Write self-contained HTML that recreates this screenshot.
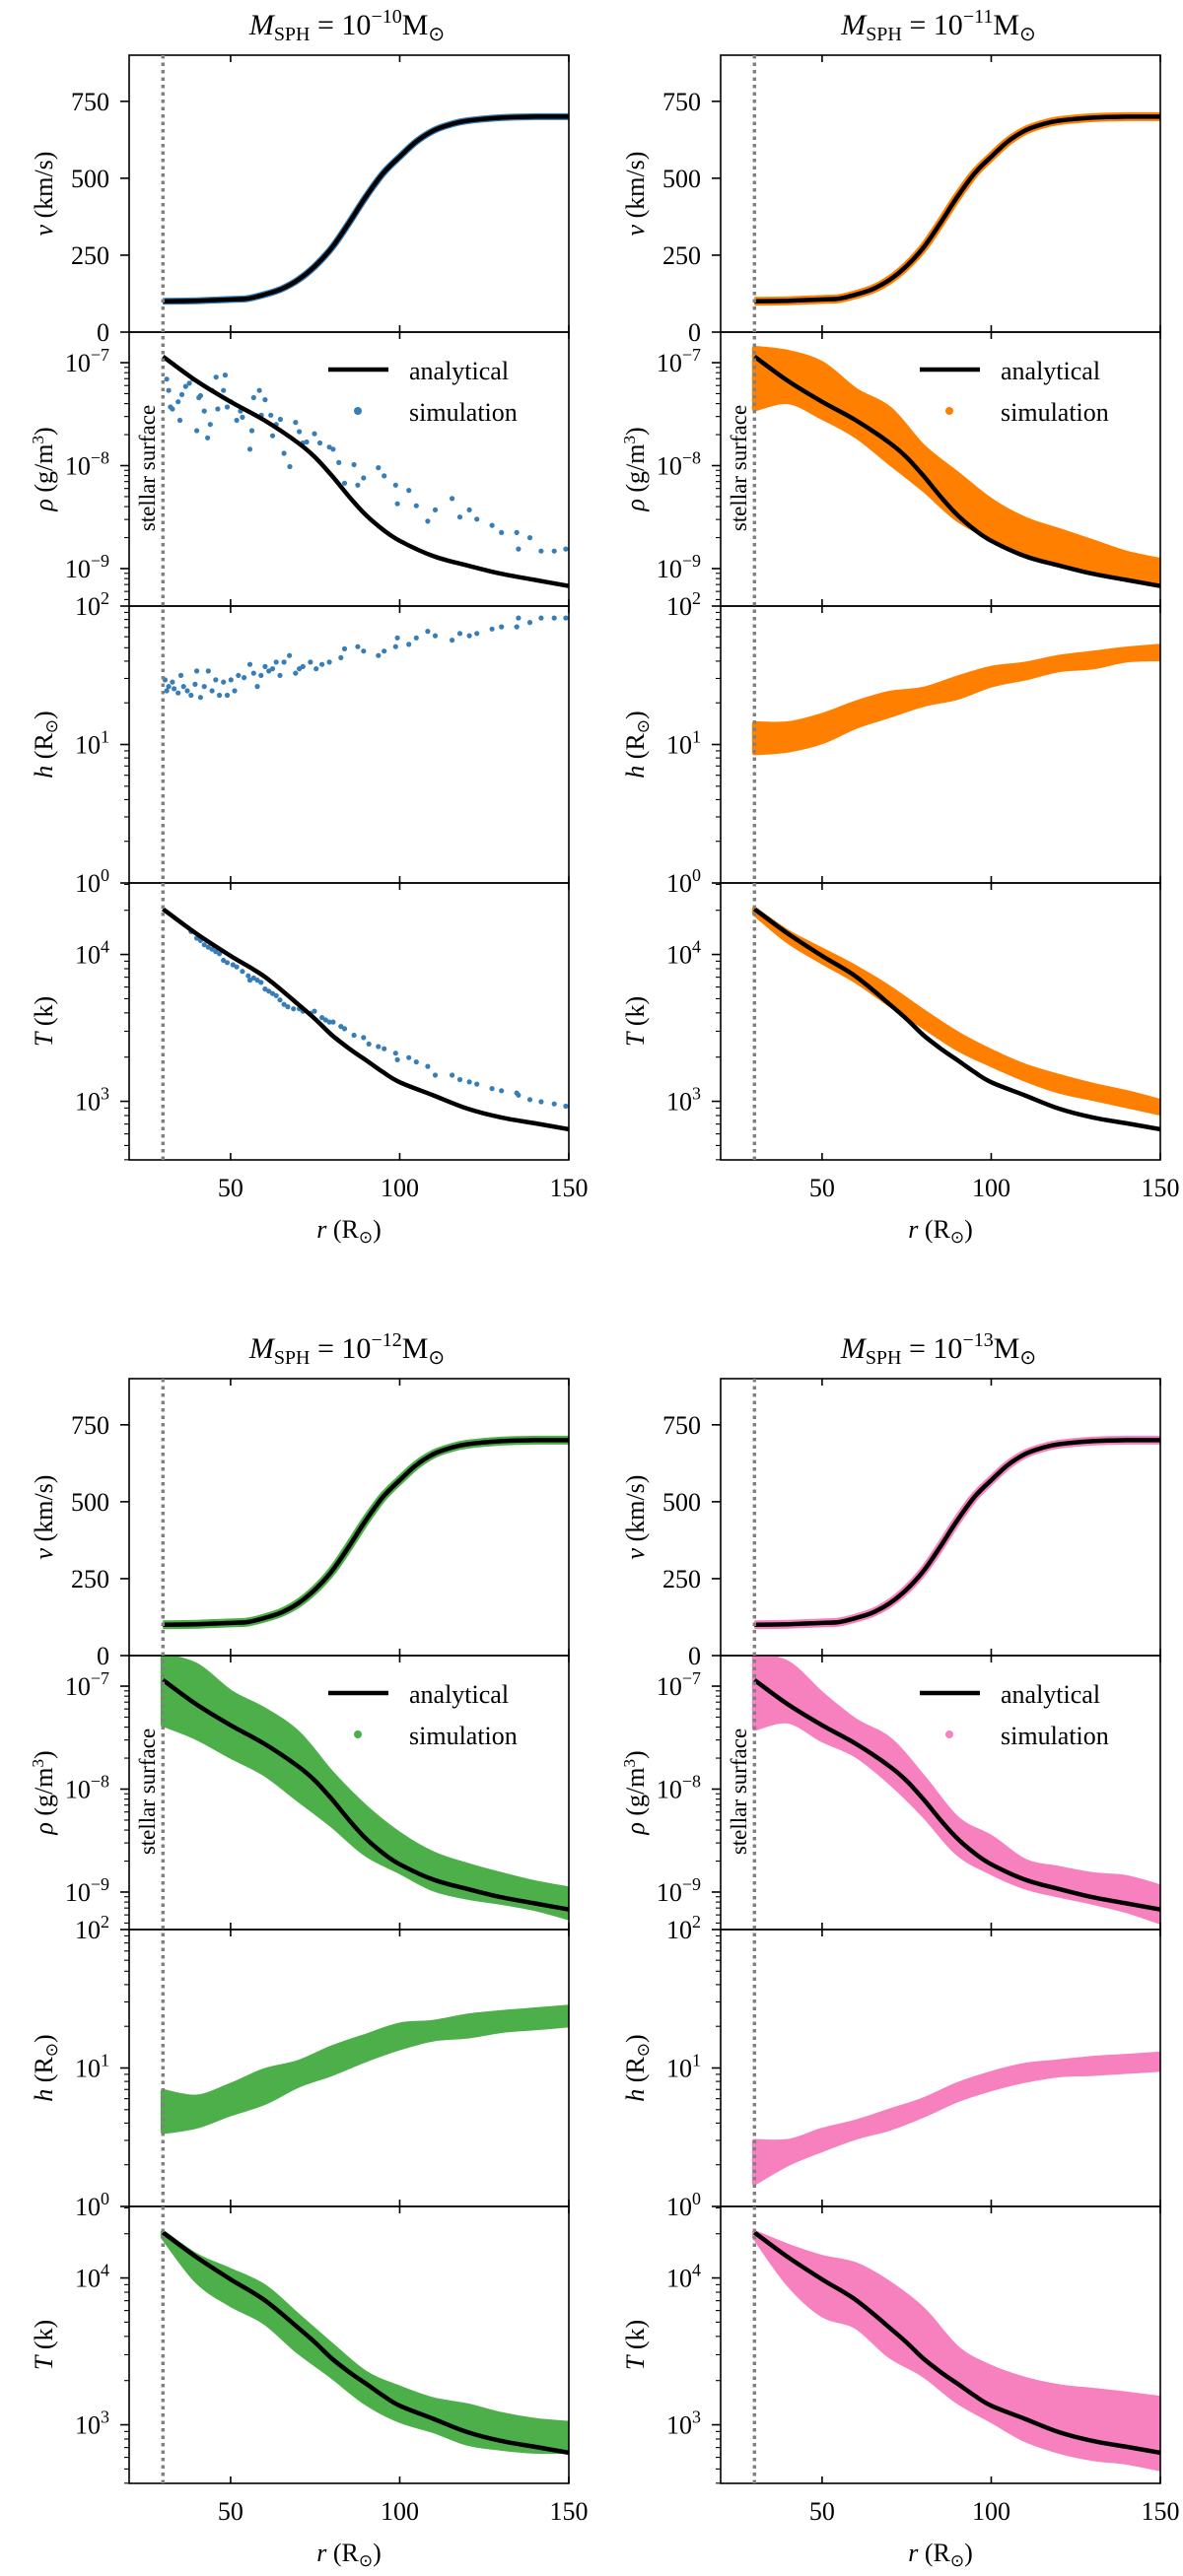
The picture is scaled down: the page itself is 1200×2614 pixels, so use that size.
<!DOCTYPE html>
<html><head><meta charset="utf-8"><style>
html,body{margin:0;padding:0;background:#fff}
svg{display:block;font-family:"Liberation Serif",serif}
</style></head><body>
<svg id="fig" width="1200" height="2614" viewBox="0 0 1200 2614" xmlns="http://www.w3.org/2000/svg"></svg>
<script>
// ---------- data ----------
const rGrid=[30,40,50,55,60,65,70,75,80,85,90,95,100,105,110,115,120,130,140,150];
const vAnalytic=[100,102,106,109,122,140,170,215,275,355,440,515,570,620,655,675,687,697,700,700];
const rhoGrid=[30,40,50,60,70,75,80,85,90,95,100,110,120,130,140,150];
const logRhoAnalytic=[-6.94,-7.18,-7.38,-7.56,-7.78,-7.92,-8.10,-8.30,-8.48,-8.62,-8.73,-8.88,-8.97,-9.05,-9.11,-9.17];
const TGrid=[30,40,50,60,70,75,80,85,90,95,100,110,120,130,140,150];
const logTAnalytic=[4.31,4.14,3.99,3.85,3.66,3.56,3.45,3.36,3.28,3.20,3.13,3.04,2.95,2.89,2.85,2.81];

// band grids for dense simulations
const bandR=[30,40,50,60,70,80,90,100,110,120,130,140,150];
const orangeRhoHi=[-6.86,-6.90,-7.01,-7.27,-7.45,-7.82,-8.08,-8.34,-8.52,-8.63,-8.74,-8.85,-8.92];
const orangeRhoLo=[-7.45,-7.38,-7.53,-7.71,-7.97,-8.23,-8.52,-8.70,-8.85,-8.96,-9.04,-9.07,-9.14];
const orangeHHi=[1.15,1.15,1.21,1.30,1.37,1.40,1.48,1.55,1.58,1.63,1.66,1.69,1.71];
const orangeHLo=[0.94,0.96,1.02,1.13,1.21,1.29,1.34,1.43,1.48,1.54,1.56,1.61,1.62];
const orangeTHi=[4.31,4.15,4.03,3.91,3.77,3.61,3.46,3.34,3.24,3.17,3.11,3.06,3.00];
const orangeTLo=[4.28,4.09,3.95,3.82,3.66,3.51,3.36,3.25,3.15,3.07,3.02,2.97,2.92];
const greenRhoHi=[-6.70,-6.80,-7.06,-7.23,-7.46,-7.85,-8.18,-8.44,-8.63,-8.74,-8.83,-8.91,-8.97];
const greenRhoLo=[-7.37,-7.50,-7.68,-7.85,-8.10,-8.35,-8.63,-8.80,-8.97,-9.05,-9.10,-9.16,-9.25];
const greenHHi=[0.83,0.79,0.875,0.98,1.04,1.146,1.23,1.31,1.33,1.375,1.40,1.42,1.44];
const greenHLo=[0.54,0.58,0.67,0.75,0.875,0.96,1.06,1.146,1.21,1.23,1.27,1.29,1.31];
const greenTHi=[4.31,4.15,4.05,3.94,3.74,3.54,3.35,3.25,3.17,3.13,3.07,3.03,3.01];
const greenTLo=[4.28,3.98,3.82,3.70,3.50,3.33,3.15,3.03,2.96,2.875,2.84,2.82,2.82];
const pinkRhoHi=[-6.70,-6.78,-7.08,-7.34,-7.52,-7.89,-8.29,-8.47,-8.70,-8.77,-8.83,-8.86,-8.95];
const pinkRhoLo=[-7.41,-7.34,-7.52,-7.67,-7.93,-8.25,-8.62,-8.81,-8.95,-9.03,-9.10,-9.18,-9.29];
const pinkHHi=[0.47,0.47,0.55,0.61,0.69,0.77,0.88,0.96,1.02,1.045,1.07,1.085,1.10];
const pinkHLo=[0.17,0.31,0.41,0.50,0.565,0.66,0.77,0.85,0.91,0.95,0.96,0.975,0.99];
const pinkTHi=[4.31,4.215,4.14,4.09,3.96,3.78,3.52,3.39,3.31,3.26,3.235,3.21,3.18];
const pinkTLo=[4.28,3.96,3.75,3.67,3.47,3.34,3.16,3.03,2.90,2.82,2.77,2.745,2.70];

// sparse blue simulation (M=1e-10)
const blueRhoR=[31.1,31.7,32.2,32.8,34.5,35.0,35.6,36.7,37.8,38.9,40.0,40.6,41.1,42.2,43.2,44.0,44.5,45.7,46.2,47.9,48.4,49.0,50.1,51.8,52.9,53.5,55.7,56.3,56.8,58.5,59.1,60.2,61.9,62.4,63.5,64.7,65.8,67.5,69.2,70.3,71.4,72.5,74.8,76.4,79.2,80.3,82.0,83.7,86.5,87.6,89.3,93.7,95.4,98.8,99.3,102.7,104.9,108.3,110.5,115.5,117.8,120.6,122.8,127.3,130.1,134.6,135.1,138.5,141.8,145.7,149.1];
const blueRhoLog=[-7.16,-7.27,-7.43,-7.45,-7.38,-7.56,-7.31,-7.23,-7.20,-7.16,-7.66,-7.34,-7.32,-7.47,-7.73,-7.60,-7.27,-7.14,-7.45,-7.27,-7.12,-7.43,-7.38,-7.56,-7.47,-7.53,-7.84,-7.66,-7.34,-7.27,-7.51,-7.36,-7.51,-7.71,-7.60,-7.55,-7.88,-8.01,-7.58,-7.67,-7.78,-7.77,-7.69,-7.78,-7.82,-7.84,-7.97,-8.17,-7.99,-8.19,-8.12,-8.02,-8.10,-8.19,-8.37,-8.24,-8.39,-8.54,-8.43,-8.32,-8.50,-8.43,-8.52,-8.58,-8.65,-8.65,-8.81,-8.70,-8.83,-8.83,-8.81];
const blueHR=[30.6,31.1,31.7,32.8,33.3,34.5,35.3,36.1,37.2,38.3,39.5,40.0,41.1,42.2,43.4,44.5,45.6,46.7,47.9,49.0,50.1,51.2,52.3,54.0,55.7,56.8,57.9,59.0,60.2,61.3,62.4,63.5,64.6,65.8,67.4,69.2,70.3,71.4,73.6,75.3,77.0,79.2,82.6,83.7,87.6,89.3,93.7,95.4,98.8,99.3,102.7,104.9,108.3,110.5,115.5,117.8,120.6,122.8,127.3,130.1,134.6,135.1,138.5,141.8,145.7,149.1];
const blueHLog=[1.467,1.388,1.419,1.451,1.403,1.372,1.499,1.419,1.388,1.356,1.435,1.531,1.340,1.419,1.531,1.388,1.467,1.356,1.451,1.356,1.467,1.388,1.499,1.483,1.579,1.515,1.419,1.499,1.563,1.531,1.547,1.595,1.499,1.595,1.643,1.515,1.547,1.563,1.595,1.547,1.579,1.595,1.627,1.691,1.707,1.675,1.643,1.675,1.707,1.770,1.723,1.770,1.818,1.786,1.754,1.802,1.786,1.802,1.834,1.850,1.850,1.914,1.882,1.914,1.914,1.914];
const blueTR=[38.3,40.0,41.1,42.2,43.4,44.5,45.6,46.7,47.9,49.0,50.7,51.8,53.5,55.2,55.7,56.8,57.9,59.0,60.2,61.3,62.4,63.5,64.6,65.8,66.9,68.6,70.3,71.4,73.6,74.8,77.0,78.1,79.2,80.3,82.6,83.7,86.5,89.3,90.9,93.7,95.4,98.8,99.3,102.7,104.9,108.3,110.5,115.5,117.8,120.6,122.8,127.3,130.1,134.6,135.1,138.5,141.8,145.7,149.1];
const blueTLog=[4.156,4.111,4.095,4.066,4.05,4.036,4.02,4.005,3.96,3.945,3.93,3.915,3.885,3.855,3.825,3.84,3.825,3.81,3.765,3.75,3.734,3.72,3.69,3.66,3.644,3.63,3.63,3.614,3.60,3.614,3.57,3.554,3.54,3.54,3.51,3.494,3.45,3.434,3.39,3.373,3.358,3.328,3.283,3.298,3.268,3.238,3.178,3.178,3.148,3.132,3.117,3.087,3.072,3.057,3.042,3.012,2.997,2.982,2.967];

const panelsCfg=[
 {col:0,row:0,exp:'−10',color:'#377eb8',sparse:true},
 {col:1,row:0,exp:'−11',color:'#ff7f00',rhoHi:orangeRhoHi,rhoLo:orangeRhoLo,hHi:orangeHHi,hLo:orangeHLo,THi:orangeTHi,TLo:orangeTLo},
 {col:0,row:1,exp:'−12',color:'#4daf4a',rhoHi:greenRhoHi,rhoLo:greenRhoLo,hHi:greenHHi,hLo:greenHLo,THi:greenTHi,TLo:greenTLo},
 {col:1,row:1,exp:'−13',color:'#f781bf',rhoHi:pinkRhoHi,rhoLo:pinkRhoLo,hHi:pinkHHi,hLo:pinkHLo,THi:pinkTHi,TLo:pinkTLo}
];

// ---------- drawing ----------
const NS='http://www.w3.org/2000/svg';
const svg=document.getElementById('fig');
function mk(tag,attrs,parent){const e=document.createElementNS(NS,tag);for(const k in attrs)e.setAttribute(k,attrs[k]);(parent||svg).appendChild(e);return e;}
// Catmull-Rom smooth path through points (pts: [[x,y],...]); cont=true to continue with L
function smooth(pts,cont){
  let d=(cont?'L':'M')+pts[0][0].toFixed(1)+','+pts[0][1].toFixed(1);
  for(let i=0;i<pts.length-1;i++){
    const p0=pts[Math.max(i-1,0)],p1=pts[i],p2=pts[i+1],p3=pts[Math.min(i+2,pts.length-1)];
    const c1x=p1[0]+(p2[0]-p0[0])/6,c1y=p1[1]+(p2[1]-p0[1])/6;
    const c2x=p2[0]-(p3[0]-p1[0])/6,c2y=p2[1]-(p3[1]-p1[1])/6;
    d+='C'+c1x.toFixed(1)+','+c1y.toFixed(1)+' '+c2x.toFixed(1)+','+c2y.toFixed(1)+' '+p2[0].toFixed(1)+','+p2[1].toFixed(1);
  }
  return d;
}
let clipId=0;

function drawFigure(cfg){
  const ox=cfg.col*600, oy=cfg.row*1343;
  const x0=131+ox, x1=577+ox;
  const xs=r=>x0+(r-20)/130*(x1-x0);
  const g=mk('g',{});
  
  
  const t=mk('text',{x:352+ox,y:35+oy,'text-anchor':'middle','font-size':30},g);
  
  
  t.innerHTML='<tspan font-style="italic">M</tspan><tspan font-size="20" dy="6">SPH</tspan><tspan dy="-6"> = 10</tspan><tspan font-size="20" dy="-12">'+cfg.exp+'</tspan><tspan dy="12">M</tspan><tspan font-size="20" dy="6">⊙</tspan>';

  const panels=[
    {key:'v',top:56,bot:337,lin:true,min:0,max:900,label:'<tspan font-style="italic">v</tspan> (km/s)'},
    {key:'rho',top:337,bot:615,min:-9.364,max:-6.703,label:'<tspan font-style="italic">ρ</tspan> (g/m<tspan font-size="17" dy="-9">3</tspan><tspan dy="9">)</tspan>'},
    {key:'h',top:615,bot:896,min:0,max:2,label:'<tspan font-style="italic">h</tspan> (R<tspan font-size="17" dy="5">⊙</tspan><tspan dy="-5">)</tspan>'},
    {key:'T',top:896,bot:1177,min:2.601,max:4.487,label:'<tspan font-style="italic">T</tspan> (k)'}
  ];
  panels.forEach(p=>{
    const top=p.top+oy, bot=p.bot+oy;
    const ys=val=>bot-(val-p.min)/(p.max-p.min)*(bot-top);
    const pg=mk('g',{},g);
    
    
    const id='c'+(clipId++);
    const cp=mk('clipPath',{id:id},pg);
    mk('rect',{x:x0,y:top,width:x1-x0,height:bot-top},cp);
    const dg=mk('g',{'clip-path':'url(#'+id+')'},pg);
    if(p.key==='v'){
      const d=smooth(rGrid.map((r,i)=>[xs(r),ys(vAnalytic[i])]));
      const s=mk('path',{d:d,fill:'none',stroke:cfg.color,'stroke-width':cfg.sparse?7:9,'stroke-linejoin':'round'},dg);
      
      
    } else if(cfg.sparse){
      const R= p.key==='rho'?blueRhoR:p.key==='h'?blueHR:blueTR;
      const L= p.key==='rho'?blueRhoLog:p.key==='h'?blueHLog:blueTLog;
      R.forEach((r,i)=>{
        const c=mk('circle',{cx:xs(r).toFixed(1),cy:ys(L[i]).toFixed(1),r:2.6,fill:cfg.color},dg);
        
        
      });
    } else {
      const hi=cfg[p.key+'Hi'], lo=cfg[p.key+'Lo'];
      let d=smooth(bandR.map((r,i)=>[xs(r),ys(hi[i])]));
      const lowPts=bandR.map((r,i)=>[xs(r),ys(lo[i])]).reverse();
      d+=smooth(lowPts,true)+'Z';
      const b=mk('path',{d:d,fill:cfg.color,stroke:cfg.color,'stroke-width':5,'stroke-linejoin':'round'},dg);
      
      
    }
    let ar,av;
    if(p.key==='v'){ar=rGrid;av=vAnalytic;} else if(p.key==='rho'){ar=rhoGrid;av=logRhoAnalytic;} else if(p.key==='T'){ar=TGrid;av=logTAnalytic;}
    if(ar){
      const d=smooth(ar.map((r,i)=>[xs(r),ys(av[i])]));
      const a=mk('path',{d:d,fill:'none',stroke:'#000','stroke-width':4.5,'stroke-linejoin':'round'},dg);
      
      
    }
    const fr=mk('rect',{x:x0,y:top,width:x1-x0,height:bot-top,fill:'none',stroke:'#000','stroke-width':1.6},pg);
    
    
    [50,100,150].forEach(r=>{
      mk('line',{x1:xs(r),x2:xs(r),y1:top,y2:top+7,stroke:'#000','stroke-width':1.6},pg);
      mk('line',{x1:xs(r),x2:xs(r),y1:bot,y2:bot-7,stroke:'#000','stroke-width':1.6},pg);
    });
    if(p.lin){
      [0,250,500,750].forEach(v=>{
        mk('line',{x1:x0-9,x2:x0,y1:ys(v),y2:ys(v),stroke:'#000','stroke-width':1.6},pg);
        const tl=mk('text',{x:x0-20,y:ys(v)+9,'text-anchor':'end','font-size':26},pg);
        
        
        tl.textContent=v;
      });
    } else {
      for(let e=Math.floor(p.min);e<=Math.ceil(p.max);e++){
        for(let m=1;m<10;m++){
          const lv=e+Math.log10(m);
          if(lv<p.min-1e-6||lv>p.max+1e-6)continue;
          const y=ys(lv);
          mk('line',{x1:x0-(m===1?9:5),x2:x0,y1:y,y2:y,stroke:'#000','stroke-width':m===1?1.6:1.1},pg);
          if(m===1){
            const tl=mk('text',{x:x0-20,y:y+9,'text-anchor':'end','font-size':26},pg);
            
            
            tl.innerHTML='10<tspan font-size="18" dy="-11">'+String(e).replace('-','−')+'</tspan>';
          }
        }
      }
    }
    const mid=(top+bot)/2;
    const yl=mk('text',{x:0,y:0,'text-anchor':'middle','font-size':26,transform:'translate('+(53+ox)+','+mid+') rotate(-90)'},pg);
    
    
    yl.innerHTML=p.label;
    if(p.key==='rho'){
      const lg=mk('g',{},pg);
      
      
      mk('line',{x1:333+ox,x2:394+ox,y1:top+38,y2:top+38,stroke:'#000','stroke-width':4.5},lg);
      const t1=mk('text',{x:415+ox,y:top+48,'font-size':26},lg);
      
      
      t1.textContent='analytical';
      mk('circle',{cx:363+ox,cy:top+80,r:4,fill:cfg.color},lg);
      const t2=mk('text',{x:415+ox,y:top+90,'font-size':26},lg);
      
      
      t2.textContent='simulation';
      const ss=mk('text',{x:0,y:0,'text-anchor':'middle','font-size':23,transform:'translate('+(157+ox)+','+(top+138)+') rotate(-90)'},pg);
      
      
      ss.textContent='stellar surface';
    }
    if(p.key==='T'){
      [50,100,150].forEach(r=>{
        const xl=mk('text',{x:xs(r),y:bot+37,'text-anchor':'middle','font-size':26},pg);
        
        
        xl.textContent=r;
      });
      const xt=mk('text',{x:(x0+x1)/2,y:bot+79,'text-anchor':'middle','font-size':26},pg);
      
      
      xt.innerHTML='<tspan font-style="italic">r</tspan> (R<tspan font-size="17" dy="5">⊙</tspan><tspan dy="-5">)</tspan>';
    }
  });
  const dl=mk('line',{x1:xs(30),x2:xs(30),y1:56+oy,y2:1177+oy,stroke:'#808080','stroke-width':3.5,'stroke-dasharray':'3.5,4'},g);
  
  
}
panelsCfg.forEach(drawFigure);
</script>
</body></html>
